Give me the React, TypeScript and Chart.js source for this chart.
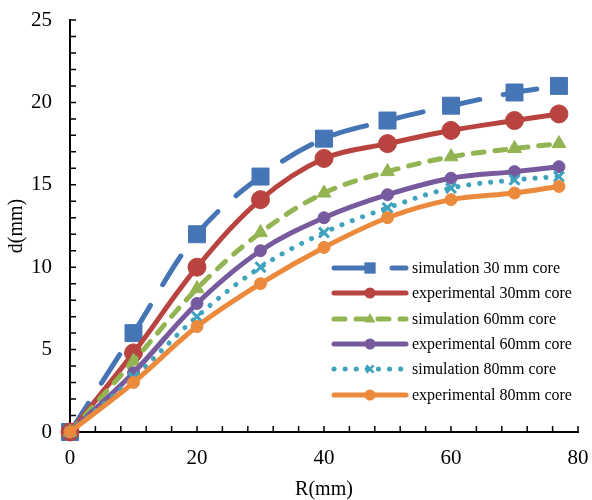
import React, { useEffect, useRef } from 'react';
import { Chart, registerables } from 'chart.js';
Chart.register(...registerables);

const R = [0, 10, 20, 30, 40, 50, 60, 70, 77];
const sim30 = [0, 6, 12, 15.5, 17.8, 18.9, 19.8, 20.6, 21];
const exp30 = [0, 4.8, 10, 14.1, 16.6, 17.5, 18.3, 18.9, 19.3];
const sim60 = [0, 4.3, 8.7, 12.1, 14.5, 15.8, 16.7, 17.2, 17.5];
const exp60 = [0, 3.6, 7.8, 11, 13, 14.4, 15.4, 15.8, 16.1];
const sim80 = [0, 3.3, 7, 10, 12.1, 13.6, 14.8, 15.3, 15.5];
const exp80 = [0, 3, 6.4, 9, 11.2, 13, 14.1, 14.5, 14.9];

const names = [
  'simulation 30 mm core',
  'experimental 30mm core',
  'simulation 60mm core',
  'experimental 60mm core',
  'simulation 80mm core',
  'experimental 80mm core',
];
const values = [sim30, exp30, sim60, exp60, sim80, exp80];
const colors = ['#4675B6', '#B9433F', '#93B452', '#765A9D', '#3FA3BE', '#EB8A3C'];
const dashes: number[][] = [[34, 24], [], [11, 11], [], [0.1, 11], []];
const styles = ['rect', 'circle', 'triangle', 'circle', 'crossRot', 'circle'];
const radii = [12, 9, 8, 6, 7, 6];
const legendRadii = [8, 5.5, 6, 5.5, 5, 5.5];

const X_TITLE = 'R(mm)';
const Y_TITLE = 'd(mm)';
const FONT = "'Liberation Serif', 'Times New Roman', serif";

function drawMarker(ctx: CanvasRenderingContext2D, style: string, x: number, y: number, r: number, color: string) {
  ctx.save();
  ctx.setLineDash([]);
  ctx.fillStyle = color;
  ctx.strokeStyle = color;
  ctx.lineWidth = 1;
  ctx.beginPath();
  if (style === 'rect') {
    const s = r * Math.SQRT1_2;
    ctx.rect(x - s, y - s, 2 * s, 2 * s);
    ctx.fill();
  } else if (style === 'circle') {
    ctx.arc(x, y, r, 0, Math.PI * 2);
    ctx.fill();
  } else if (style === 'triangle') {
    ctx.moveTo(x, y - r);
    ctx.lineTo(x + r * 0.9, y + r * 0.6);
    ctx.lineTo(x - r * 0.9, y + r * 0.6);
    ctx.closePath();
    ctx.fill();
  } else if (style === 'crossRot') {
    ctx.lineWidth = 2.5;
    const s = r * Math.SQRT1_2;
    ctx.moveTo(x - s, y - s);
    ctx.lineTo(x + s, y + s);
    ctx.moveTo(x + s, y - s);
    ctx.lineTo(x - s, y + s);
    ctx.stroke();
  }
  ctx.restore();
}

const tickPlugin = {
  id: 'innerTicks',
  beforeDatasetsDraw(chart: any) {
    const { ctx, scales, chartArea } = chart;
    const x = scales.x;
    const y = scales.y;
    ctx.save();
    ctx.strokeStyle = '#000';
    ctx.lineWidth = 1.5;
    ctx.beginPath();
    for (let v = 0; v <= 25; v += 1) {
      const py = y.getPixelForValue(v);
      ctx.moveTo(chartArea.left, py);
      ctx.lineTo(chartArea.left + 6, py);
    }
    for (let v = 4; v <= 80; v += 4) {
      const px = x.getPixelForValue(v);
      ctx.moveTo(px, chartArea.bottom);
      ctx.lineTo(px, chartArea.bottom - 6);
    }
    ctx.stroke();
    ctx.restore();
  },
};

const legendPlugin = {
  id: 'customLegend',
  afterDraw(chart: any) {
    const { ctx } = chart;
    const x0 = 334;
    const x1 = 406;
    const rows = [268, 293, 319, 344, 369, 395];
    ctx.save();
    names.forEach((name, i) => {
      const yy = rows[i];
      ctx.save();
      ctx.strokeStyle = colors[i];
      ctx.lineWidth = 5;
      ctx.lineCap = 'round';
      ctx.setLineDash(dashes[i]);
      ctx.beginPath();
      ctx.moveTo(x0, yy);
      ctx.lineTo(x1, yy);
      ctx.stroke();
      ctx.restore();
      drawMarker(ctx, styles[i], (x0 + x1) / 2, yy, legendRadii[i], colors[i]);
      ctx.fillStyle = '#000';
      ctx.font = `16px ${FONT}`;
      ctx.textBaseline = 'middle';
      ctx.textAlign = 'left';
      ctx.fillText(name, 412, yy + 1);
    });
    ctx.restore();
  },
};

export default function App() {
  const ref = useRef<HTMLCanvasElement>(null);
  useEffect(() => {
    document.body.style.margin = '0';
    const datasets = values.map((vals, i) => ({
      label: names[i],
      data: R.map((r, j) => ({ x: r, y: vals[j] })),
      borderColor: colors[i],
      backgroundColor: colors[i],
      borderWidth: 5,
      borderDash: dashes[i],
      borderCapStyle: 'round' as const,
      tension: 0.35,
      pointStyle: styles[i] as any,
      pointRadius: radii[i],
      pointBorderWidth: styles[i] === 'crossRot' ? 3 : 1,
      pointBorderColor: colors[i],
      pointBackgroundColor: colors[i],
      clip: false as any,
      order: 6 - i,
    }));
    const chart = new Chart(ref.current as HTMLCanvasElement, {
      type: 'line',
      data: { datasets },
      options: {
        animation: false,
        responsive: false,
        layout: { padding: { top: 20, right: 14, left: 0, bottom: 0 } },
        plugins: { legend: { display: false }, tooltip: { enabled: false } },
        scales: {
          x: {
            type: 'linear',
            min: 0,
            max: 80,
            ticks: { stepSize: 20, color: '#000', font: { family: FONT, size: 21 }, padding: 14, maxRotation: 0 },
            grid: { display: false, drawTicks: false },
            border: { display: true, color: '#000', width: 2 },
            title: { display: true, text: X_TITLE, color: '#000', font: { family: FONT, size: 20, lineHeight: 1 }, padding: { top: 0, bottom: 0 } },
            afterFit: (s: any) => { s.height = 68; s.paddingLeft = 0; s.paddingRight = 0; },
          },
          y: {
            type: 'linear',
            min: 0,
            max: 25,
            ticks: { stepSize: 5, color: '#000', font: { family: FONT, size: 21 }, padding: 18 },
            grid: { display: false, drawTicks: false },
            border: { display: true, color: '#000', width: 2 },
            title: { display: true, text: Y_TITLE, color: '#000', font: { family: FONT, size: 20, lineHeight: 1 }, padding: { top: 7, bottom: 0 } },
            afterFit: (s: any) => { s.width = 70; s.paddingTop = 0; s.paddingBottom = 0; },
          },
        },
      },
      plugins: [tickPlugin, legendPlugin],
    });
    return () => chart.destroy();
  }, []);
  return (
    <div style={{ position: 'absolute', left: 0, top: 0, width: 592, height: 500 }}>
      <canvas ref={ref} width={592} height={500} />
    </div>
  );
}
